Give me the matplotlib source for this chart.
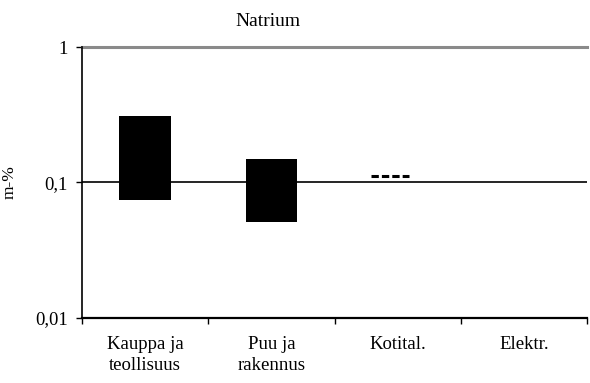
import numpy as np
import matplotlib
matplotlib.use("Agg")
import matplotlib.pyplot as plt
from matplotlib.ticker import FixedLocator, FixedFormatter

plt.rcParams['font.family'] = ['Liberation Serif', 'DejaVu Serif']

# Sodium content ranges per sector (m-%)
categories = ["Kauppa ja\nteollisuus", "Puu ja\nrakennus", "Kotital.", "Elektr."]
low = [0.074, 0.051, 0.112, np.nan]
high = [0.31, 0.148, 0.112, np.nan]
y_ticks = [0.01, 0.1, 1]
y_ticklabels = ["0,01", "0,1", "1"]

fig = plt.figure(figsize=(5.9, 3.83), dpi=100)
ax = fig.add_axes([0.139, 0.17, 0.856, 0.707])

x = np.arange(len(categories))
for xi, lo, hi in zip(x, low, high):
    if np.isnan(lo):
        continue
    if hi > lo:
        ax.bar(xi, hi - lo, bottom=lo, width=0.41, color='black', zorder=3)
    else:
        # single value: drawn as a short dashed marker
        ax.hlines(lo, xi - 0.21, xi + 0.09, colors='black', linewidth=2.2,
                  linestyles=(0, (2.4, 1.0)), zorder=3)

ax.set_yscale('log')
ax.set_ylim(0.01, 1)
ax.set_xlim(-0.5, len(categories) - 0.5)

# horizontal reference lines
ax.axhline(0.1, color='black', linewidth=1.2, zorder=2)
ax.axhline(1, color='#8a8a8a', linewidth=2.2, zorder=2, clip_on=False)

ax.yaxis.set_major_locator(FixedLocator(y_ticks))
ax.yaxis.set_major_formatter(FixedFormatter(y_ticklabels))
ax.yaxis.set_minor_locator(FixedLocator([]))
ax.tick_params(axis='y', which='major', direction='out', length=4,
               width=1, labelsize=13.5, pad=6)

ax.set_xticks(x)
ax.set_xticklabels(categories, fontsize=13.5, linespacing=1.35)
ax.set_xticks(np.arange(len(categories) + 1) - 0.5, minor=True)
ax.tick_params(axis='x', which='major', length=0, pad=13)
ax.tick_params(axis='x', which='minor', direction='out', length=4, width=1)

for side in ['top', 'right']:
    ax.spines[side].set_visible(False)
ax.spines['left'].set_linewidth(1.2)
ax.spines['bottom'].set_linewidth(1.6)

ax.set_ylabel("m-%", fontsize=12.5)
ax.yaxis.set_label_coords(-0.127, 0.5)
fig.text(0.455, 0.945, "Natrium", fontsize=14, ha='center', va='center')

fig.savefig("out.png", dpi=100)
